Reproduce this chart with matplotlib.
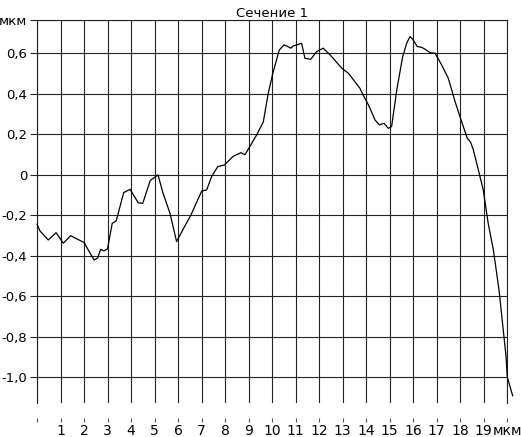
import matplotlib.pyplot as plt

# Profile data (x in мкм, height in мкм)
x_pos = [0.00, 0.13, 0.48, 0.81, 1.12, 1.43, 2.01, 2.18, 2.43, 2.58, 2.71, 2.85, 3.00, 3.20, 3.37,
         3.69, 3.96, 4.31, 4.50, 4.82, 5.15, 5.35, 5.66, 5.94, 6.20, 6.55, 6.84, 7.01, 7.22, 7.43,
         7.69, 7.97, 8.35, 8.68, 8.85, 8.99, 9.35, 9.63, 9.84, 10.03, 10.31, 10.51, 10.62, 10.80,
         10.91, 11.05, 11.26, 11.40, 11.65, 11.90, 12.18, 12.47, 12.97, 13.25, 13.74, 13.91, 14.03,
         14.17, 14.38, 14.57, 14.77, 14.95, 15.09, 15.31, 15.56, 15.73, 15.87, 15.99, 16.18, 16.37,
         16.51, 16.72, 16.94, 17.22, 17.50, 17.79, 18.07, 18.31, 18.45, 18.57, 18.78, 18.99, 19.20,
         19.42, 19.66, 19.84, 19.96, 20.01, 20.24]
height = [-0.243, -0.277, -0.321, -0.285, -0.337, -0.300, -0.334, -0.370, -0.420, -0.410, -0.367,
          -0.375, -0.365, -0.239, -0.227, -0.087, -0.071, -0.138, -0.140, -0.027, 0.000, -0.085,
          -0.190, -0.329, -0.272, -0.198, -0.123, -0.079, -0.074, -0.008, 0.041, 0.049, 0.092,
          0.110, 0.100, 0.127, 0.198, 0.262, 0.403, 0.500, 0.617, 0.642, 0.637, 0.626, 0.637,
          0.642, 0.650, 0.576, 0.571, 0.609, 0.626, 0.593, 0.527, 0.502, 0.428, 0.387, 0.362,
          0.329, 0.272, 0.247, 0.255, 0.230, 0.239, 0.420, 0.584, 0.650, 0.683, 0.670, 0.634,
          0.630, 0.621, 0.604, 0.601, 0.543, 0.478, 0.362, 0.263, 0.181, 0.162, 0.123, 0.025,
          -0.074, -0.239, -0.370, -0.568, -0.765, -0.897, -0.996, -1.090]

x_ticks = list(range(0, 21))
x_labels = [''] + [str(i) for i in range(1, 20)] + ['мкм']
y_top = 0.765
y_ticks = [-1.0, -0.8, -0.6, -0.4, -0.2, 0.0, 0.2, 0.4, 0.6, y_top]
y_labels = ['-1,0', '-0,8', '-0,6', '-0,4', '-0,2', '0', '0,2', '0,4', '0,6', 'мкм']

plt.rcParams['font.family'] = ['DejaVu Sans']

fig = plt.figure(figsize=(5.21, 4.37), dpi=100)
ax = fig.add_axes([37 / 521, 1 - 403 / 437, 470 / 521, 383 / 437])

ax.plot(x_pos, height, color='black', lw=0.9, clip_on=False, zorder=3)

ax.set_xlim(0, 20)
ax.set_ylim(-1.126, y_top)

ax.set_xticks(x_ticks)
ax.set_xticklabels(x_labels, fontsize=9.5)
ax.set_yticks(y_ticks)
ax.set_yticklabels(y_labels, fontsize=9.5)

ax.grid(True, color='#222222', lw=0.8)

# Frame: left, right, top lines; bottom ticks float below the plot
for side in ['left', 'right', 'top']:
    ax.spines[side].set_color('#222222')
    ax.spines[side].set_linewidth(0.8)
ax.spines['bottom'].set_position(('outward', 10.5))
ax.spines['bottom'].set_visible(False)

ax.tick_params(axis='y', direction='out', length=5, width=0.8, color='#222222', pad=2)
ax.tick_params(axis='x', direction='out', length=3, width=0.8, color='#555555', pad=1.5)

ax.set_title('Сечение 1', fontsize=9.5, pad=2)

fig.savefig('out.png', dpi=100)
